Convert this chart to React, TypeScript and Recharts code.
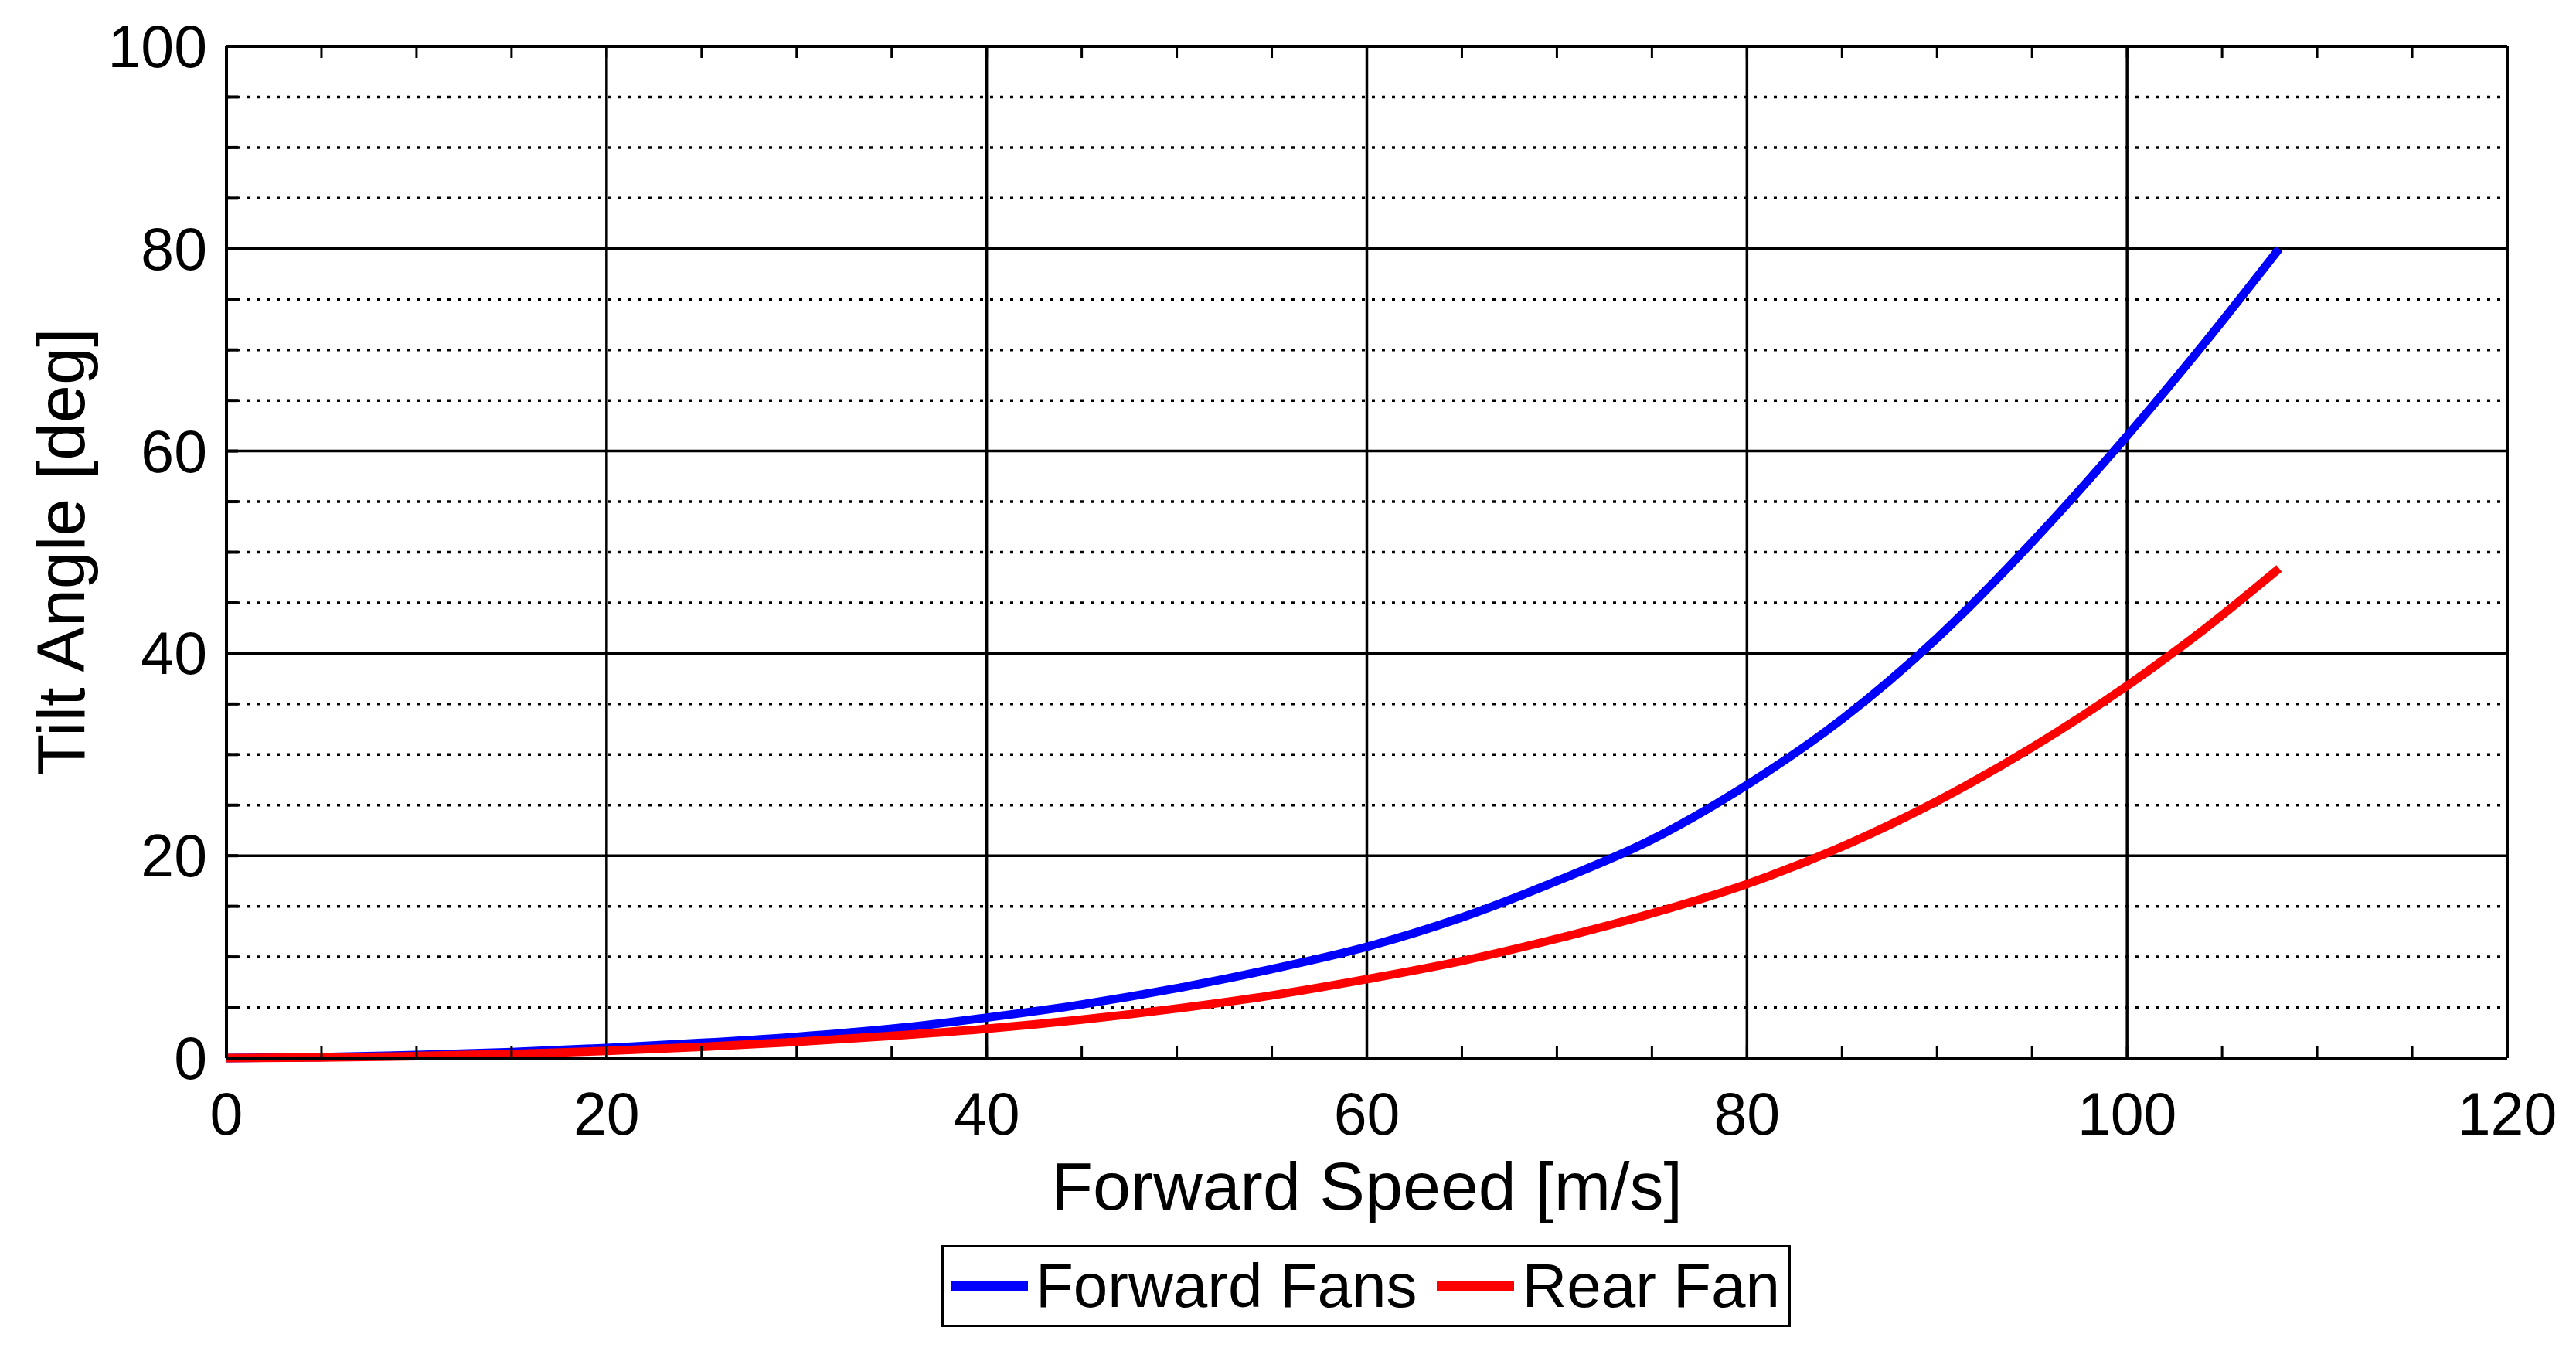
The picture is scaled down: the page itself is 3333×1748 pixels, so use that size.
import React from 'react';
import { LineChart, Line, XAxis, YAxis, ReferenceLine } from 'recharts';

document.body.style.margin = '0';

const speeds = [0, 5, 10, 15, 20, 25, 30, 35, 40, 45, 50, 55, 60, 65, 70, 75, 80, 85, 90, 95, 100, 104, 108];
const forwardFans = [0, 0.1, 0.3, 0.6, 1.0, 1.5, 2.1, 2.9, 4.0, 5.3, 6.9, 8.8, 11.0, 13.9, 17.5, 21.6, 27, 33.5, 41.5, 51, 61.5, 70.5, 80];
const rearFan = [0, 0.05, 0.2, 0.4, 0.7, 1.1, 1.6, 2.2, 2.9, 3.8, 4.9, 6.2, 7.8, 9.6, 11.8, 14.3, 17.2, 20.9, 25.4, 30.7, 36.8, 42.3, 48.4];

const xTicks = [0, 5, 10, 15, 20, 25, 30, 35, 40, 45, 50, 55, 60, 65, 70, 75, 80, 85, 90, 95, 100, 105, 110, 115, 120];
const yTicks = [0, 5, 10, 15, 20, 25, 30, 35, 40, 45, 50, 55, 60, 65, 70, 75, 80, 85, 90, 95, 100];
const xMajor = [20, 40, 60, 80, 100];
const yMajor = [20, 40, 60, 80];
const yMinor = yTicks.filter((v) => v % 20 !== 0);

const data = speeds.map((s, i) => ({ speed: s, forward: forwardFans[i], rear: rearFan[i] }));

const FONT = '"Liberation Sans", Arial, Helvetica, sans-serif';
const TICK_FS = 77;
const TICK_LEN = 15;

const BottomTick = (props: any) => {
  const { x, y, payload } = props;
  const v = payload.value;
  return (
    <g>
      {v > 0 && v < 120 && <line x1={x} y1={y} x2={x} y2={y - TICK_LEN} stroke="#000" strokeWidth={3} />}
      {v % 20 === 0 && (
        <text x={x} y={y + 99} textAnchor="middle" fontSize={TICK_FS} fontFamily={FONT} fill="#000">
          {v}
        </text>
      )}
    </g>
  );
};

const TopTick = (props: any) => {
  const { x, y, payload } = props;
  const v = payload.value;
  if (v <= 0 || v >= 120) return <g />;
  return <line x1={x} y1={y} x2={x} y2={y + TICK_LEN} stroke="#000" strokeWidth={3} />;
};

const LeftTick = (props: any) => {
  const { x, y, payload } = props;
  const v = payload.value;
  return (
    <g>
      {v > 0 && v < 100 && <line x1={x} y1={y} x2={x + TICK_LEN} y2={y} stroke="#000" strokeWidth={4} />}
      {v % 20 === 0 && (
        <text x={x - 25} y={y + 27} textAnchor="end" fontSize={TICK_FS} fontFamily={FONT} fill="#000">
          {v}
        </text>
      )}
    </g>
  );
};

const RightTick = (props: any) => {
  const { x, y, payload } = props;
  const v = payload.value;
  if (v <= 0 || v >= 100) return <g />;
  return <line x1={x} y1={y} x2={x - TICK_LEN} y2={y} stroke="#000" strokeWidth={4} />;
};

const LegendItem = ({ color, label }: { color: string; label: string }) => (
  <div style={{ display: 'flex', alignItems: 'center' }}>
    <div style={{ width: 100, height: 12, background: color, marginRight: 10 }} />
    <span>{label}</span>
  </div>
);

export default function App() {
  return (
    <div style={{ position: 'relative', width: 3333, height: 1748, background: '#fff', fontFamily: FONT }}>
      <LineChart width={3333} height={1748} data={data} margin={{ top: 0, right: 0, left: 0, bottom: 0 }}>
        <XAxis
          dataKey="speed"
          type="number"
          domain={[0, 120]}
          ticks={xTicks}
          interval={0}
          height={379}
          tickSize={0}
          tickMargin={0}
          tickLine={false}
          axisLine={{ stroke: '#000', strokeWidth: 4 }}
          tick={<BottomTick />}
        />
        <XAxis
          xAxisId="top"
          orientation="top"
          dataKey="speed"
          type="number"
          domain={[0, 120]}
          ticks={xTicks}
          interval={0}
          height={60}
          tickSize={0}
          tickMargin={0}
          tickLine={false}
          axisLine={{ stroke: '#000', strokeWidth: 4 }}
          tick={<TopTick />}
        />
        <YAxis
          type="number"
          domain={[0, 100]}
          ticks={yTicks}
          interval={0}
          width={293}
          tickSize={0}
          tickMargin={0}
          tickLine={false}
          axisLine={{ stroke: '#000', strokeWidth: 4 }}
          tick={<LeftTick />}
        />
        <YAxis
          yAxisId="right"
          orientation="right"
          type="number"
          domain={[0, 100]}
          ticks={yTicks}
          interval={0}
          width={89}
          tickSize={0}
          tickMargin={0}
          tickLine={false}
          axisLine={{ stroke: '#000', strokeWidth: 4 }}
          tick={<RightTick />}
        />
        {yMinor.map((v) => (
          <ReferenceLine key={'ym' + v} y={v} stroke="#000" strokeWidth={3.5} strokeDasharray="4 9" />
        ))}
        {yMajor.map((v) => (
          <ReferenceLine key={'yM' + v} y={v} stroke="#000" strokeWidth={3.5} />
        ))}
        {xMajor.map((v) => (
          <ReferenceLine key={'xM' + v} x={v} stroke="#000" strokeWidth={3.5} />
        ))}
        <Line
          dataKey="forward"
          name="Forward Fans"
          type="monotone"
          stroke="#0000ff"
          strokeWidth={11}
          dot={false}
          isAnimationActive={false}
        />
        <Line
          dataKey="rear"
          name="Rear Fan"
          type="monotone"
          stroke="#ff0000"
          strokeWidth={11}
          dot={false}
          isAnimationActive={false}
        />
      </LineChart>

      <div
        style={{
          position: 'absolute',
          left: 293,
          width: 2951,
          top: 1535 - 50,
          height: 100,
          lineHeight: '100px',
          textAlign: 'center',
          fontSize: 88,
        }}
      >
        Forward Speed [m/s]
      </div>
      <div
        style={{
          position: 'absolute',
          left: 79 - 400,
          top: 714 - 50,
          width: 800,
          height: 100,
          lineHeight: '100px',
          textAlign: 'center',
          fontSize: 88,
          transform: 'rotate(-90deg)',
        }}
      >
        Tilt Angle [deg]
      </div>

      <div
        style={{
          position: 'absolute',
          left: 1218,
          top: 1611,
          width: 1099,
          height: 106,
          boxSizing: 'border-box',
          border: '3px solid #000',
          display: 'flex',
          alignItems: 'center',
          paddingLeft: 9,
          gap: 26,
          fontSize: 80,
          whiteSpace: 'nowrap',
        }}
      >
        <LegendItem color="#0000ff" label="Forward Fans" />
        <LegendItem color="#ff0000" label="Rear Fan" />
      </div>
    </div>
  );
}
